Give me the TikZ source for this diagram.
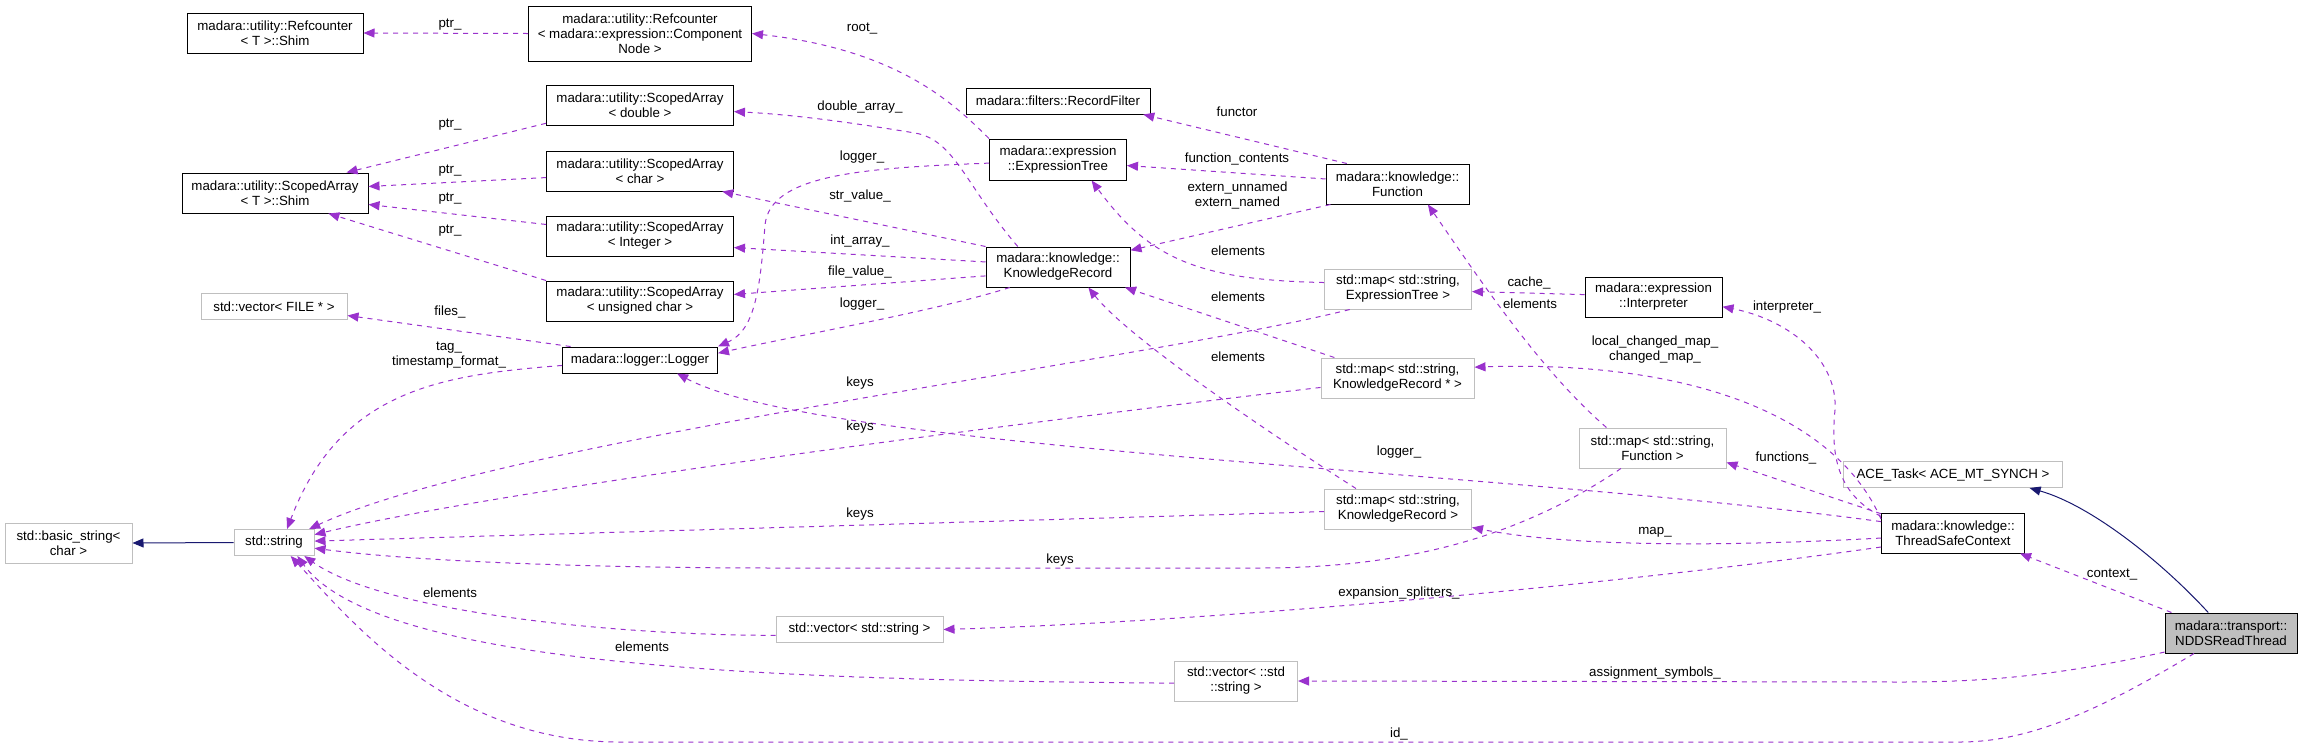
\documentclass[tikz,border=0pt]{standalone}
\usepackage{fontspec}
\setmainfont{Liberation Sans}
\usetikzlibrary{arrows.meta}
\definecolor{doxpurple}{HTML}{9A32CD}
\definecolor{doxnavy}{HTML}{191970}
\definecolor{doxgray}{HTML}{BFBFBF}
\newcommand{\doxfont}{\fontsize{13.3}{15}\selectfont}
\tikzset{
  cls/.style={draw=black, fill=white, line width=1pt, inner sep=0pt, align=center, font=\doxfont},
  undoc/.style={cls, draw=doxgray},
  current/.style={cls, fill=doxgray},
  member/.style={draw=doxpurple, line width=1pt, dash pattern=on 5pt off 5pt, -{Triangle[length=11pt,width=9pt]}},
  inherit/.style={draw=doxnavy, line width=1pt, -{Triangle[length=11pt,width=9pt]}},
  memlbl/.style={inner sep=0pt, align=center, font=\doxfont},
}

\begin{document}
\begin{tikzpicture}[x=1pt,y=-1pt]
	\useasboundingbox (0,0) rectangle (2303,748);
	% classes
	\node[cls, minimum width=176pt, minimum height=40pt] (rcshim) at (275,33) {madara::utility::Refcounter\\< T >::Shim};
	\node[cls, minimum width=223pt, minimum height=55pt] (rcnode) at (640,33.5) {madara::utility::Refcounter\\< madara::expression::Component\\Node >};
	\node[cls, minimum width=187pt, minimum height=40pt] (sadouble) at (640,105) {madara::utility::ScopedArray\\< double >};
	\node[cls, minimum width=186pt, minimum height=40pt] (sashim) at (275,193) {madara::utility::ScopedArray\\< T >::Shim};
	\node[cls, minimum width=187pt, minimum height=40pt] (sachar) at (640,171) {madara::utility::ScopedArray\\< char >};
	\node[cls, minimum width=187pt, minimum height=40pt] (saint) at (640,236) {madara::utility::ScopedArray\\< Integer >};
	\node[cls, minimum width=187pt, minimum height=40pt] (sauchar) at (640,301) {madara::utility::ScopedArray\\< unsigned char >};
	\node[undoc, minimum width=146pt, minimum height=26pt] (vecfile) at (274,306.5) {std::vector< FILE * >};
	\node[cls, minimum width=155pt, minimum height=26pt] (logger) at (640,360) {madara::logger::Logger};
	\node[cls, minimum width=184pt, minimum height=26pt] (recfilter) at (1058,101) {madara::filters::RecordFilter};
	\node[cls, minimum width=137pt, minimum height=41pt] (exprtree) at (1058,159.5) {madara::expression\\::ExpressionTree};
	\node[cls, minimum width=143pt, minimum height=40pt] (function) at (1397.5,184) {madara::knowledge::\\Function};
	\node[cls, minimum width=144pt, minimum height=40pt] (krecord) at (1058,267) {madara::knowledge::\\KnowledgeRecord};
	\node[undoc, minimum width=147pt, minimum height=40pt] (mapet) at (1398,289) {std::map< std::string,\\ExpressionTree >};
	\node[undoc, minimum width=153pt, minimum height=40pt] (mapkrp) at (1397.5,378) {std::map< std::string,\\KnowledgeRecord * >};
	\node[cls, minimum width=137pt, minimum height=40pt] (interp) at (1653.5,297) {madara::expression\\::Interpreter};
	\node[undoc, minimum width=147pt, minimum height=40pt] (mapkr) at (1398,509) {std::map< std::string,\\KnowledgeRecord >};
	\node[undoc, minimum width=167pt, minimum height=26pt] (vecstr) at (859.5,629.5) {std::vector< std::string >};
	\node[undoc, minimum width=123pt, minimum height=40pt] (vecstdstr) at (1236,681) {std::vector< ::std\\::string >};
	\node[undoc, minimum width=147pt, minimum height=40pt] (mapfn) at (1652.5,448) {std::map< std::string,\\Function >};
	\node[undoc, minimum width=219pt, minimum height=26pt] (acetask) at (1953,474.5) {ACE\_Task< ACE\_MT\_SYNCH >};
	\node[cls, minimum width=143pt, minimum height=40pt] (tsc) at (1953,533) {madara::knowledge::\\ThreadSafeContext};
	\node[current, minimum width=132pt, minimum height=40pt] (ndds) at (2231,633) {madara::transport::\\NDDSReadThread};
	\node[undoc, minimum width=127pt, minimum height=40pt] (basicstr) at (68.5,543) {std::basic\_string<\\char >};
	\node[undoc, minimum width=80pt, minimum height=26pt] (stdstr) at (274,542.5) {std::string};

	% base classes
	\draw[inherit] (stdstr.west) -- (basicstr.east);
	\draw[inherit] (ndds.138) .. controls (2160,560) and (2090,505) .. (acetask.-10);

	% members
	\draw[member] (rcnode.west) -- (rcshim.east);
	\draw[member] (exprtree.north west) .. controls (955,105) and (900,50) .. (rcnode.east);
	\draw[member] (krecord.153) .. controls (965,185) and (955,140) .. (915,133) .. controls (860,124) and (800,115) .. (sadouble.-4);
	\draw[member] (sadouble.191) -- (sashim.16);
	\draw[member] (sachar.184) -- (sashim.4);
	\draw[member] (saint.173) -- (sashim.-7);
	\draw[member] (sauchar.north west) -- (sashim.-21);
	\draw[member] (krecord.north west) -- (sachar.-14);
	\draw[member] (krecord.176) -- (saint.-7);
	\draw[member] (krecord.187) -- (sauchar.4);
	\draw[member] (krecord.203) .. controls (940,310) and (800,335) .. (logger.5);
	\draw[member] (exprtree.183) .. controls (860,168) and (770,175) .. (765,225) .. controls (760,290) and (755,330) .. (logger.north east);
	\draw[member] (logger.169) -- (vecfile.-7);
	\draw[member] (logger.184) .. controls (440,375) and (340,390) .. (stdstr.46);
	\draw[member] (tsc.171) .. controls (1500,470) and (820,450) .. (logger.-20);
	\draw[member] (mapet.203) .. controls (1150,360) and (500,440) .. (stdstr.21);
	\draw[member] (mapkrp.187) .. controls (1000,425) and (500,490) .. (stdstr.11);
	\draw[member] (mapkr.182) -- (stdstr.2);
	\draw[member] (mapfn.213) .. controls (1530,530) and (1420,568) .. (1260,568) -- (780,568) .. controls (600,568) and (420,562) .. (stdstr.-8);
	\draw[member] (vecstr.184) .. controls (600,635) and (380,610) .. (stdstr.-24);
	\draw[member] (vecstdstr.182) .. controls (800,680) and (380,670) .. (stdstr.-30);
	\draw[member] (ndds.209) .. controls (2100,710) and (2030,742) .. (1960,742) -- (620,742) .. controls (450,742) and (350,620) .. (stdstr.-39); % id_
	\draw[member] (ndds.161) -- (tsc.-17);
	\draw[member] (ndds.196) .. controls (2060,675) and (1990,682) .. (1900,682) -- (vecstdstr.east);
	\draw[member] (tsc.165) -- (mapfn.-11);
	\draw[member] (tsc.167) .. controls (1840,495) and (1830,460) .. (1835,410) .. controls (1838,360) and (1790,320) .. (interp.-8);
	\draw[member] (tsc.169) .. controls (1835,415) and (1690,360) .. (mapkrp.8);
	\draw[member] (tsc.184) .. controls (1700,548) and (1560,545) .. (mapkr.-14);
	\draw[member] (tsc.191) .. controls (1650,580) and (1250,620) .. (vecstr.east);
	\draw[member] (mapkr.154) .. controls (1280,440) and (1130,340) .. (krecord.-34);
	\draw[member] (mapkrp.162) -- (krecord.-17);
	\draw[member] (function.197) -- (krecord.13);
	\draw[member] (function.176) -- (exprtree.-5);
	\draw[member] (function.158) -- (recfilter.-9);
	\draw[member] (mapet.175) .. controls (1200,280) and (1150,260) .. (exprtree.-32);
	\draw[member] (interp.178) -- (mapet.-2);
	\draw[member] (mapfn.156) .. controls (1540,370) and (1480,280) .. (function.-34);

	% edge labels
	\node[memlbl] (lrcptr) at (450,25) {ptr\_};
	\node[memlbl] (lroot) at (862,29) {root\_};
	\node[memlbl] (ldouble) at (860,107) {double\_array\_};
	\node[memlbl] (lsaptra) at (450,125) {ptr\_};
	\node[memlbl] (lsaptrb) at (450,171) {ptr\_};
	\node[memlbl] (lsaptrc) at (450,199) {ptr\_};
	\node[memlbl] (lsaptrd) at (450,231) {ptr\_};
	\node[memlbl] (ltreelog) at (862,157) {logger\_};
	\node[memlbl] (lstr) at (860,196) {str\_value\_};
	\node[memlbl] (lint) at (860,241) {int\_array\_};
	\node[memlbl] (lfile) at (860,272) {file\_value\_};
	\node[memlbl] (lreclog) at (862,304) {logger\_};
	\node[memlbl] (lfiles) at (450,312) {files\_};
	\node[memlbl] (ltag) at (449,355) {tag\_\\timestamp\_format\_};
	\node[memlbl] (lkeysa) at (860,383) {keys};
	\node[memlbl] (lkeysb) at (860,427) {keys};
	\node[memlbl] (lkeysc) at (860,514) {keys};
	\node[memlbl] (lkeysd) at (1060,560) {keys};
	\node[memlbl] (lctxlog) at (1399,452) {logger\_};
	\node[memlbl] (lelema) at (450,593) {elements};
	\node[memlbl] (lelemb) at (642,647) {elements};
	\node[memlbl] (lid) at (1399,734) {id\_};
	\node[memlbl] (lfunctor) at (1237,112) {functor};
	\node[memlbl] (lcontents) at (1237,159) {function\_contents};
	\node[memlbl] (lextern) at (1237.5,195) {extern\_unnamed\\extern\_named};
	\node[memlbl] (lelemc) at (1238,251) {elements};
	\node[memlbl] (lelemd) at (1238,297) {elements};
	\node[memlbl] (leleme) at (1238,357) {elements};
	\node[memlbl] (lcache) at (1529,283) {cache\_};
	\node[memlbl] (lelemf) at (1530,304) {elements};
	\node[memlbl] (linterp) at (1787,307) {interpreter\_};
	\node[memlbl] (lchanged) at (1655,350) {local\_changed\_map\_\\changed\_map\_};
	\node[memlbl] (lfunctions) at (1786,458) {functions\_};
	\node[memlbl] (lmap) at (1655,532) {map\_};
	\node[memlbl] (lsplit) at (1399,593) {expansion\_splitters\_};
	\node[memlbl] (lassign) at (1655,673) {assignment\_symbols\_};
	\node[memlbl] (lcontext) at (2112,575) {context\_};
\end{tikzpicture}
\end{document}
